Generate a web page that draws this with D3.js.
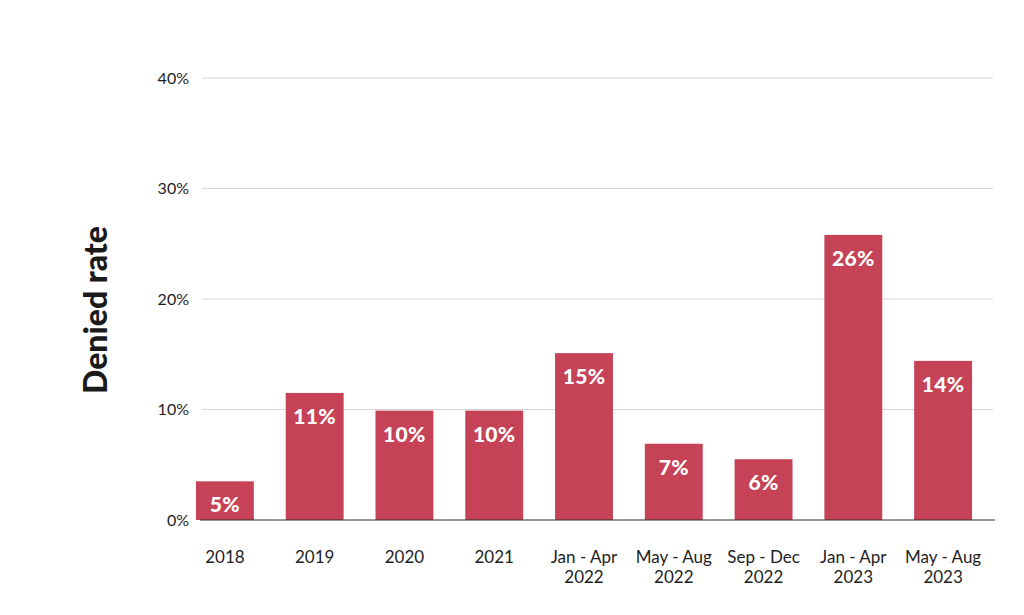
<!DOCTYPE html>
<html>
<head>
<meta charset="utf-8">
<script src="https://cdn.jsdelivr.net/npm/d3@7"></script>
<style>
  html, body { margin: 0; padding: 0; background: #fff; }
  svg { display: block; font-family: Lato, "Open Sans", sans-serif; }
</style>
</head>
<body>
<svg id="chart" width="1024" height="615"></svg>
<script>
'use strict';

// periods, two lines each for the axis labels
var periods = [
  ['2018'], ['2019'], ['2020'], ['2021'],
  ['Jan - Apr', '2022'], ['May - Aug', '2022'], ['Sep - Dec', '2022'],
  ['Jan - Apr', '2023'], ['May - Aug', '2023']
];
// bar heights as drawn (percent)
var deniedRate = [3.5, 11.5, 9.9, 9.9, 15.1, 6.9, 5.5, 25.8, 14.4];
// labels printed on the bars
var barLabels = ['5%', '11%', '10%', '10%', '15%', '7%', '6%', '26%', '14%'];
var yTicks = [0, 10, 20, 30, 40];

var svg = d3.select('#chart');

var x = d3.scaleBand()
  .domain(d3.range(periods.length))
  .range([180, 988])
  .paddingInner(0.355)
  .paddingOuter(0.1775);

var y = d3.scaleLinear().domain([0, 40]).range([520, 78]);

// grid lines
svg.append('g')
  .selectAll('line')
  .data(yTicks.filter(function(d) { return d > 0; }))
  .enter().append('line')
  .attr('x1', 202)
  .attr('x2', 993)
  .attr('y1', function(d) { return y(d); })
  .attr('y2', function(d) { return y(d); })
  .attr('stroke', '#d6d6d6')
  .attr('stroke-width', 1);

// y tick labels
svg.append('g')
  .selectAll('text')
  .data(yTicks)
  .enter().append('text')
  .attr('x', 189)
  .attr('y', function(d) { return y(d); })
  .attr('dy', '0.36em')
  .attr('text-anchor', 'end')
  .attr('font-size', 16)
  .attr('fill', '#1e1e1e')
  .text(function(d) { return d + '%'; });

// bars
svg.append('g')
  .selectAll('rect')
  .data(deniedRate)
  .enter().append('rect')
  .attr('x', function(d, i) { return x(i); })
  .attr('width', x.bandwidth())
  .attr('y', function(d) { return y(d); })
  .attr('height', function(d) { return y(0) - y(d); })
  .attr('fill', '#c64257');

// values on bars
svg.append('g')
  .selectAll('text')
  .data(deniedRate)
  .enter().append('text')
  .attr('x', function(d, i) { return x(i) + x.bandwidth() / 2; })
  .attr('y', function(d) { return y(d) + 31; })
  .attr('text-anchor', 'middle')
  .attr('font-size', 21)
  .attr('font-weight', 900)
  .attr('letter-spacing', 0.3)
  .attr('fill', '#fff')
  .text(function(d, i) { return barLabels[i]; });

// baseline
svg.append('line')
  .attr('x1', 200)
  .attr('x2', 995)
  .attr('y1', y(0))
  .attr('y2', y(0))
  .attr('stroke', '#333')
  .attr('stroke-width', 1.2);

// category labels
var cats = svg.append('g')
  .selectAll('text')
  .data(periods)
  .enter().append('text')
  .attr('x', function(d, i) { return x(i) + x.bandwidth() / 2; })
  .attr('y', 563)
  .attr('text-anchor', 'middle')
  .attr('font-size', 17)
  .attr('fill', '#1e1e1e');

cats.selectAll('tspan')
  .data(function(d) { return d; })
  .enter().append('tspan')
  .attr('x', function() { return d3.select(this.parentNode).attr('x'); })
  .attr('dy', function(d, i) { return i === 0 ? 0 : 20; })
  .text(function(d) { return d; });

// axis title
svg.append('text')
  .attr('transform', 'translate(107,310) rotate(-90)')
  .attr('text-anchor', 'middle')
  .attr('font-size', 32)
  .attr('font-weight', 900)
  .attr('fill', '#1a1a1a')
  .text('Denied rate');
</script>
</body>
</html>
